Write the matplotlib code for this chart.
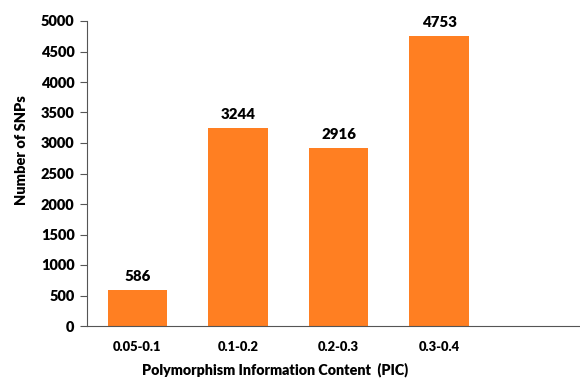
import matplotlib
matplotlib.use("Agg")
import matplotlib.pyplot as plt

categories = ["0.05-0.1", "0.1-0.2", "0.2-0.3", "0.3-0.4"]
snp_counts = [586, 3244, 2916, 4753]
y_ticks = list(range(0, 5001, 500))

plt.rcParams['font.family'] = ['Lato', 'DejaVu Sans']
W = "heavy"

fig = plt.figure(figsize=(5.8, 3.78), dpi=100)
# the plot area runs one empty category slot past the right edge
ax = fig.add_axes([87/580, 52/378, 503/580, 305/378])

bar_color = "#FF7F22"
x = list(range(len(categories)))
bars = ax.bar(x, snp_counts, width=0.59, color=bar_color, edgecolor="none")

for xi, v in zip(x, snp_counts):
    ax.annotate(f"{v}", (xi, v), xytext=(0, 5), textcoords="offset points",
                ha="center", va="bottom", fontsize=10.8, fontweight=W)

ax.set_xlim(-0.5, 4.5)
ax.set_ylim(0, 5000)
ax.set_yticks(y_ticks)
ax.set_yticklabels([str(t) for t in y_ticks], fontsize=10.5, fontweight=W)
ax.set_xticks(x)
ax.set_xticklabels(categories, fontsize=9.4, fontweight=W)
ax.tick_params(axis="x", length=0, pad=11)
ax.tick_params(axis="y", length=5, width=0.8, color="#555555", pad=4)

for side in ("top", "right"):
    ax.spines[side].set_visible(False)
ax.spines["left"].set_color("#555555")
ax.spines["bottom"].set_color("#555555")
ax.spines["left"].set_linewidth(0.8)
ax.spines["bottom"].set_linewidth(0.8)

ax.set_xlabel("Polymorphism Information Content  (PIC)", fontsize=10.3,
              fontweight=W)
ax.xaxis.set_label_coords(0.373, -0.119)
ax.set_ylabel("Number of SNPs", fontsize=10.5, fontweight=W)
ax.yaxis.set_label_coords(-0.117, 0.577)

fig.savefig("out.png", dpi=100)
